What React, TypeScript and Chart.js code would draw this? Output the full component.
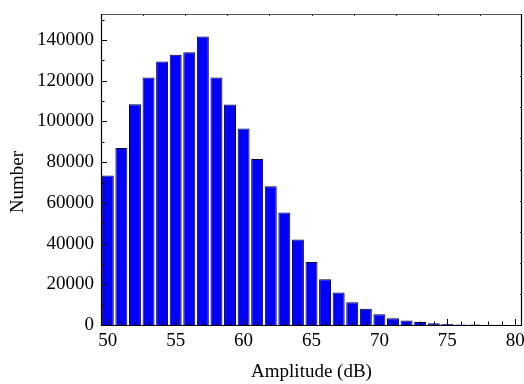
import React, { useEffect, useRef } from "react";
import { Chart, registerables } from "chart.js";

Chart.register(...registerables);

const amplitudes: number[] = [50, 51, 52, 53, 54, 55, 56, 57, 58, 59, 60, 61, 62, 63, 64, 65, 66, 67, 68, 69, 70, 71, 72, 73, 74, 75, 76, 77, 78, 79, 80];
const counts: number[] = [73500, 87000, 108500, 121600, 129500, 132800, 134000, 141700, 121600, 108300, 96500, 81500, 68200, 55300, 42000, 30900, 22500, 16000, 11200, 8000, 5300, 3300, 2200, 1500, 800, 450, 280, 200, 130, 80, 50];
const yTickValues: number[] = [0, 20000, 40000, 60000, 80000, 100000, 120000, 140000];
const yMax = 152800;
const yStep = 20000;
const yMinorStep = 10000;
const xTickEvery = 5;
const xTitle = "Amplitude (dB)";
const yTitle = "Number";

const FONT = "'Liberation Serif', 'Times New Roman', serif";

const framePlugin = {
  id: "frameTicks",
  afterDatasetsDraw(chart: any) {
    const { ctx, chartArea } = chart;
    const { left, right, top, bottom } = chartArea;
    const xs = chart.scales.x;
    const ys = chart.scales.y;
    ctx.save();
    ctx.strokeStyle = "#000";
    ctx.lineWidth = 1;
    amplitudes.forEach((a, i) => {
      const px = Math.round(xs.getPixelForValue(i)) + 0.5;
      const len = a % xTickEvery === 0 ? 6 : 3.5;
      ctx.beginPath();
      ctx.moveTo(px, bottom);
      ctx.lineTo(px, bottom - len);
      ctx.stroke();
    });
    for (let v = 0; v <= yMax; v += yMinorStep) {
      const py = Math.round(ys.getPixelForValue(v)) + 0.5;
      const len = v % yStep === 0 ? 6 : 3.5;
      ctx.beginPath();
      ctx.moveTo(left, py);
      ctx.lineTo(left + len, py);
      ctx.stroke();
    }
    ctx.strokeStyle = "#333";
    for (let k = 1; k < 10; k++) {
      const px = Math.round(left + ((right - left) * k) / 10) + 0.5;
      ctx.beginPath();
      ctx.moveTo(px, top);
      ctx.lineTo(px, top + 2);
      ctx.stroke();
      const py = Math.round(top + ((bottom - top) * k) / 10) + 0.5;
      ctx.beginPath();
      ctx.moveTo(right, py);
      ctx.lineTo(right - 2, py);
      ctx.stroke();
    }
    ctx.lineWidth = 1.2;
    ctx.strokeStyle = "#555";
    ctx.beginPath();
    ctx.moveTo(left, top + 0.5);
    ctx.lineTo(right, top + 0.5);
    ctx.stroke();
    ctx.strokeStyle = "#000";
    ctx.beginPath();
    ctx.moveTo(right - 0.5, top);
    ctx.lineTo(right - 0.5, bottom);
    ctx.stroke();
    ctx.beginPath();
    ctx.moveTo(left + 0.5, top);
    ctx.lineTo(left + 0.5, bottom);
    ctx.stroke();
    ctx.beginPath();
    ctx.moveTo(left, bottom + 0.5);
    ctx.lineTo(right, bottom + 0.5);
    ctx.stroke();
    ctx.fillStyle = "#000";
    ctx.font = `19px ${FONT}`;
    ctx.textAlign = "center";
    ctx.textBaseline = "middle";
    ctx.translate(18, 182);
    ctx.rotate(-Math.PI / 2);
    ctx.fillText(yTitle, 0, 0);
    ctx.restore();
  },
};

export default function App() {
  const ref = useRef<HTMLCanvasElement | null>(null);
  useEffect(() => {
    if (!ref.current) return;
    const chart = new Chart(ref.current, {
      type: "bar",
      data: {
        labels: amplitudes.map(String),
        datasets: [
          {
            data: counts,
            backgroundColor: "#0000FF",
            borderColor: "#000030",
            borderWidth: 1,
            barPercentage: 0.88,
            categoryPercentage: 1,
          },
        ],
      },
      options: {
        responsive: false,
        animation: false,
        devicePixelRatio: 1,
        layout: { padding: { top: 14, right: 2, left: 0, bottom: 0 } },
        plugins: { legend: { display: false }, tooltip: { enabled: false } },
        scales: {
          x: {
            type: "category",
            offset: true,
            grid: { display: false, drawTicks: false },
            border: { display: false },
            ticks: {
              autoSkip: false,
              maxRotation: 0,
              padding: 5,
              color: "#000",
              font: { family: FONT, size: 19 },
              callback: (_v: any, i: number) => (amplitudes[i] % xTickEvery === 0 ? String(amplitudes[i]) : ""),
            },
            title: {
              display: true,
              text: xTitle,
              color: "#000",
              font: { family: FONT, size: 19 },
              padding: { top: 0, bottom: 1 },
            },
            afterFit: (s: any) => {
              s.height = 59;
              s.paddingLeft = 0;
              s.paddingRight = 0;
            },
          },
          y: {
            min: 0,
            max: yMax,
            grid: { display: false, drawTicks: false },
            border: { display: false },
            afterBuildTicks: (s: any) => {
              s.ticks = yTickValues.map((v) => ({ value: v }));
            },
            ticks: {
              padding: 7,
              color: "#000",
              font: { family: FONT, size: 19 },
              callback: (v: any) => String(v),
            },
            afterFit: (s: any) => {
              s.width = 101;
              s.paddingTop = 0;
              s.paddingBottom = 0;
            },
          },
        },
      },
      plugins: [framePlugin],
    } as any);
    return () => chart.destroy();
  }, []);
  return (
    <div style={{ position: "fixed", left: 0, top: 0, width: 524, height: 384, background: "#fff" }}>
      <canvas ref={ref} width={524} height={384} />
    </div>
  );
}
